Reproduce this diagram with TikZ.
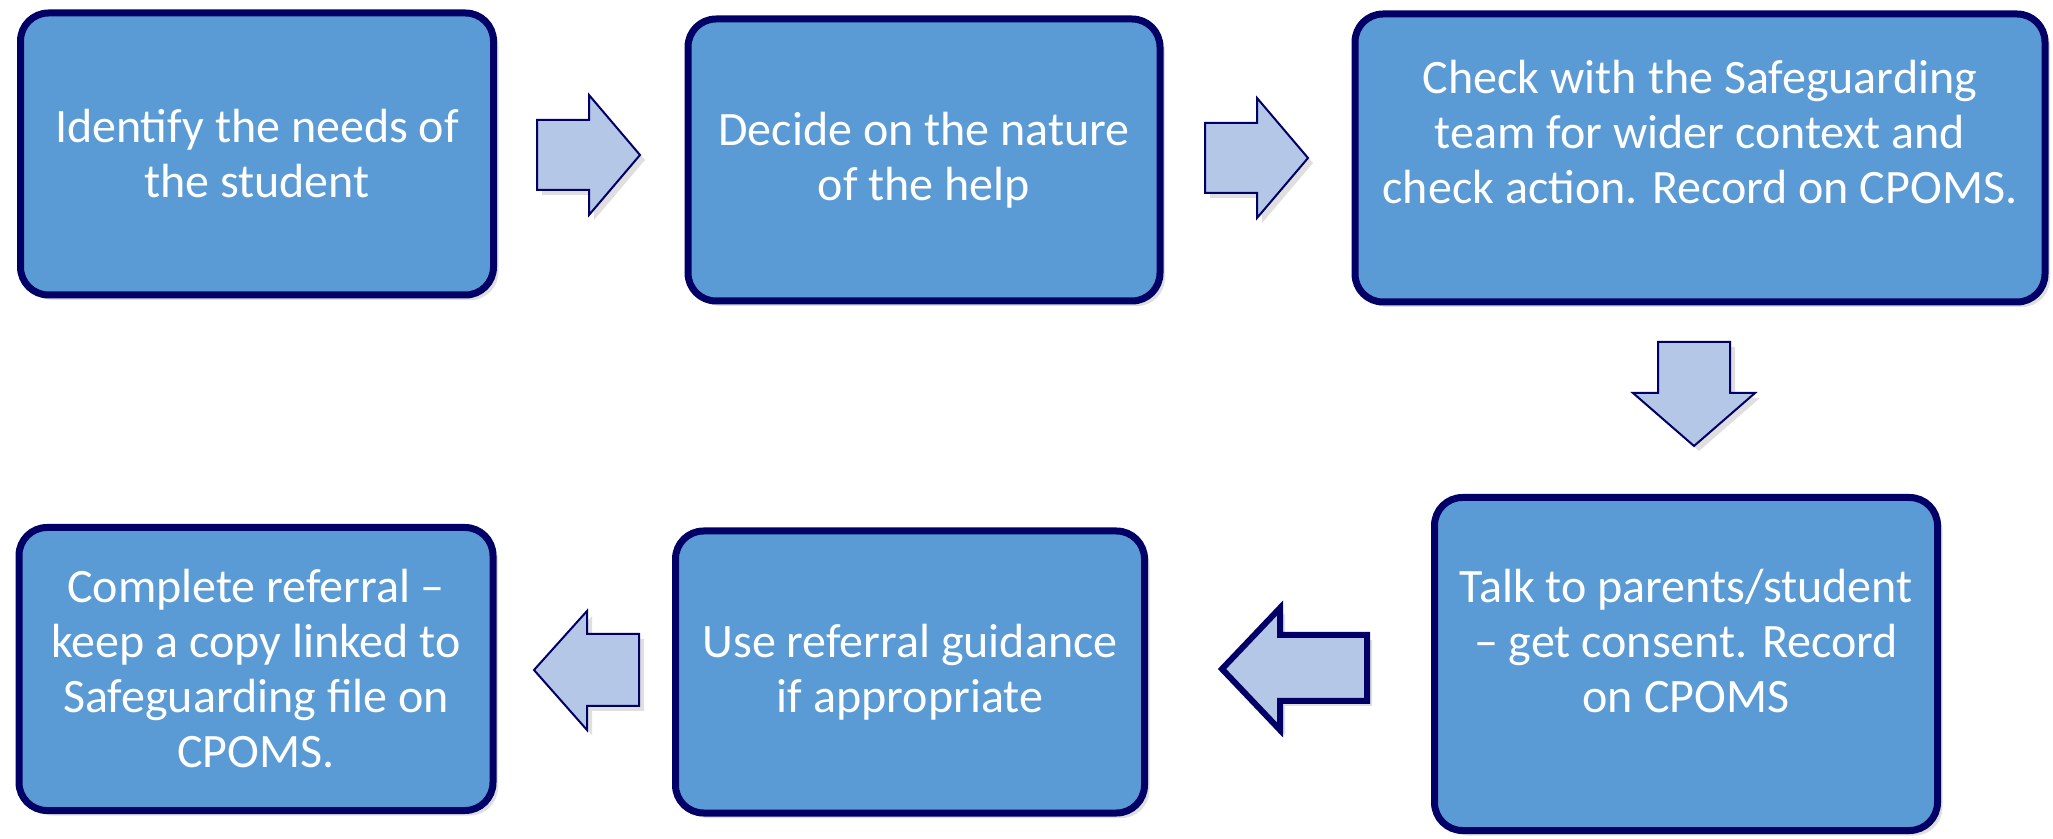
\documentclass[tikz,border=0pt]{standalone}
\usepackage{fontspec}
\setmainfont{Carlito}
\usetikzlibrary{shadows}

\definecolor{boxfill}{HTML}{5B9BD5}
\definecolor{boxline}{HTML}{000066}
\definecolor{arrowfill}{HTML}{B4C7E7}

\tikzset{
  stepbox/.style={draw=boxline, fill=boxfill, line width=3.5pt,
    rounded corners=14pt,
    drop shadow={opacity=0.25, shadow xshift=2.5pt, shadow yshift=-2.5pt}},
  steptext/.style={text=white, align=center, inner sep=0pt,
    font=\fontsize{24}{27.5}\selectfont},
  flowarrow/.style={draw=boxline, fill=arrowfill, line width=1pt,
    line join=miter,
    drop shadow={opacity=0.25, shadow xshift=2.5pt, shadow yshift=-2.5pt}},
  thickarrow/.style={flowarrow, line width=3pt}
}

\begin{document}
\begin{tikzpicture}[x=0.5pt, y=-0.5pt]
  \useasboundingbox (0,0) rectangle (2053,839);

  \node[stepbox, minimum width=236.5pt, minimum height=141pt] (b1) at (257,154) {};
  \node[stepbox, minimum width=236pt, minimum height=141pt] (b2) at (924,160) {};
  \node[stepbox, minimum width=345pt, minimum height=144pt] (b3) at (1700,158) {};
  \node[stepbox, minimum width=251.5pt, minimum height=166.5pt] (b4) at (1686,664) {};
  \node[stepbox, minimum width=234.5pt, minimum height=141pt] (b5) at (910,672) {};
  \node[stepbox, minimum width=237pt, minimum height=141.5pt] (b6) at (256,669) {};

  \node[steptext] (t1) at (b1.center) {Identify the needs of\\the student};
  \node[steptext] (t2) at (b2.center) {Decide on the nature\\of the help};
  \node[steptext] (t3) at ([yshift=13pt]b3.center) {Check with the Safeguarding\\team for wider context and\\check action. Record on CPOMS.};
  \node[steptext] (t4) at ([yshift=11.5pt]b4.center) {Talk to parents/student\\-- get consent. Record\\on CPOMS};
  \node[steptext] (t5) at (b5.center) {Use referral guidance\\if appropriate};
  \node[steptext] (t6) at (b6.center) {Complete referral --\\keep a copy linked to\\Safeguarding file on\\CPOMS.};

  % block arrows between the steps
  \coordinate (a1) at (588,155);
  \coordinate (a2) at (1256,158);
  \coordinate (a3) at (1694,394);
  \coordinate (a4) at (1294,669);
  \coordinate (a5) at (586,670);

  \draw[flowarrow] (a1) ++(-51,-35) -- ++(52,0) -- ++(0,-25) -- ++(51,60)
    -- ++(-51,60) -- ++(0,-25) -- ++(-52,0) -- cycle;
  \draw[flowarrow] (a2) ++(-51,-35) -- ++(52,0) -- ++(0,-25) -- ++(51,60)
    -- ++(-51,60) -- ++(0,-25) -- ++(-52,0) -- cycle;
  \draw[flowarrow] (a3) ++(-36,-52) -- ++(72,0) -- ++(0,51) -- ++(25,0)
    -- ++(-61,53) -- ++(-61,-53) -- ++(25,0) -- cycle;
  \draw[thickarrow] (a4) ++(-72,0) -- ++(58,-61) -- ++(0,27) -- ++(87,0)
    -- ++(0,66) -- ++(-87,0) -- ++(0,29) -- cycle;
  \draw[flowarrow] (a5) ++(-52,0) -- ++(53,-59) -- ++(0,23) -- ++(52,0)
    -- ++(0,72) -- ++(-52,0) -- ++(0,24) -- cycle;
\end{tikzpicture}
\end{document}
